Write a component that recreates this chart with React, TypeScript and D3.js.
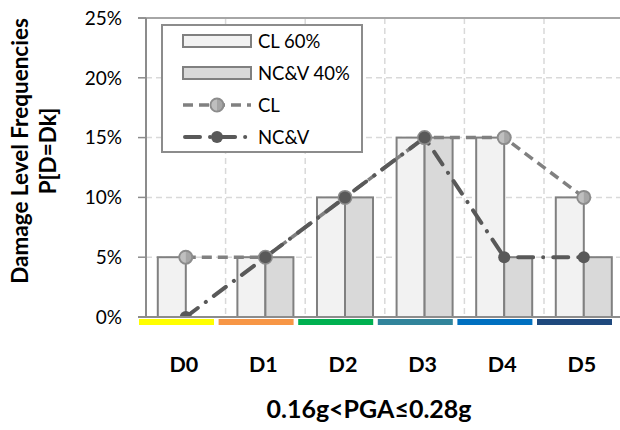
import React from "react";
import * as d3 from "d3";

const categories = ["D0", "D1", "D2", "D3", "D4", "D5"];
const clBars = [5, 5, 10, 15, 15, 10];
const ncvBars = [0, 5, 10, 15, 5, 5];
const clLine = [5, 5, 10, 15, 15, 10];
const ncvLine = [0, 5, 10, 15, 5, 5];
const yTicks = [0, 5, 10, 15, 20, 25];
const stripColors = ["#FFFF00", "#F79646", "#00B050", "#31849B", "#0070C0", "#1F497D"];
const barSeries = ["CL 60%", "NC&V 40%"];

const FONT = "Lato, 'DejaVu Sans', sans-serif";

export default function App() {
  const W = 620;
  const H = 430;
  const left = 146;
  const bandW = 79.6;
  const top = 18;
  const bottom = 317;

  const x = d3.scaleBand<string>().domain(categories).range([left, left + bandW * categories.length]);
  const inner = d3.scaleBand<string>().domain(barSeries).range([0, x.bandwidth()]).paddingInner(0).paddingOuter(0.421);
  const y = d3.scaleLinear().domain([0, 25]).range([bottom, top]);
  const cx = (c: string) => (x(c) as number) + x.bandwidth() / 2;

  const line = d3
    .line<number>()
    .x((_, i) => cx(categories[i]))
    .y((d) => y(d));

  const axisGray = "#8c8c8c";
  const clDash = "10 6";
  const ncvDash = "15 10 0.1 10";

  const ClMarker = ({ cxv, cyv }: { cxv: number; cyv: number }) => (
    <g>
      <circle cx={cxv} cy={cyv} r={6.5} fill="#a6a6a6" stroke="#8c8c8c" strokeWidth={2} />
      <path d={`M${cxv},${cyv - 5.5} A5.5,5.5 0 0 0 ${cxv},${cyv + 5.5} Z`} fill="#bfbfbf" />
    </g>
  );

  return (
    <svg width={W} height={H} style={{ position: "absolute", left: 0, top: 0, background: "#fff" }} fontFamily={FONT}>
      <defs>
        <clipPath id="plot-clip">
          <rect x={left} y={0} width={W - left} height={bottom - 1} />
        </clipPath>
      </defs>
      {/* horizontal gridlines */}
      {yTicks.slice(1, -1).map((t) => (
        <line key={"hg" + t} x1={left} x2={W} y1={y(t)} y2={y(t)} stroke="#d9d9d9" strokeWidth={1.5} strokeDasharray="6 4" />
      ))}
      {/* vertical gridlines at category boundaries */}
      {categories.slice(1).map((c) => (
        <line key={"vg" + c} x1={x(c)} x2={x(c)} y1={top} y2={bottom} stroke="#d9d9d9" strokeWidth={1.5} strokeDasharray="6 4" />
      ))}
      {/* top line */}
      <line x1={left - 8} x2={W} y1={y(25)} y2={y(25)} stroke="#a6a6a6" strokeWidth={2} />

      {/* bars */}
      {categories.map((c, i) => (
        <g key={"b" + c}>
          <rect
            x={(x(c) as number) + (inner(barSeries[0]) as number)}
            y={y(clBars[i])}
            width={inner.bandwidth()}
            height={y(0) - y(clBars[i])}
            fill="#f2f2f2"
            stroke="#808080"
            strokeWidth={2}
          />
          {ncvBars[i] > 0 && (
            <rect
              x={(x(c) as number) + (inner(barSeries[1]) as number)}
              y={y(ncvBars[i])}
              width={inner.bandwidth()}
              height={y(0) - y(ncvBars[i])}
              fill="#d9d9d9"
              stroke="#808080"
              strokeWidth={2}
            />
          )}
        </g>
      ))}

      {/* y axis */}
      <line x1={left} x2={left} y1={top} y2={bottom} stroke={axisGray} strokeWidth={2} />
      {yTicks.map((t) => (
        <g key={"yt" + t}>
          <line x1={left - 8} x2={left} y1={y(t)} y2={y(t)} stroke={axisGray} strokeWidth={1.5} />
          <text x={122} y={y(t)} dy="0.36em" textAnchor="end" fontSize={19} fill="#000">
            {t + "%"}
          </text>
        </g>
      ))}

      {/* lines */}
      <g clipPath="url(#plot-clip)">
        <path d={line(clLine) as string} fill="none" stroke="#808080" strokeWidth={3.5} strokeDasharray={clDash} />
        <path
          d={line(ncvLine) as string}
          fill="none"
          stroke="#595959"
          strokeWidth={4}
          strokeLinecap="round"
          strokeDasharray={ncvDash}
        />
        {clLine.map((v, i) => (
          <ClMarker key={"cm" + i} cxv={cx(categories[i])} cyv={y(v)} />
        ))}
        {ncvLine.map((v, i) => (
          <circle key={"nm" + i} cx={cx(categories[i])} cy={y(v)} r={6} fill="#595959" />
        ))}
      </g>

      {/* x axis */}
      <line x1={left - 8} x2={W} y1={y(0)} y2={y(0)} stroke={axisGray} strokeWidth={2} />

      {/* damage state colour strips */}
      {categories.map((c, i) => (
        <rect key={"s" + c} x={(x(c) as number) - 7} y={319} width={75} height={6} fill={stripColors[i]} />
      ))}

      {/* category labels */}
      {categories.map((c) => (
        <text key={"xl" + c} x={cx(c) - 2} y={372} textAnchor="middle" fontSize={21.5} fontWeight="bold" fill="#000">
          {c}
        </text>
      ))}

      {/* axis titles */}
      <text x={369} y={418} textAnchor="middle" fontSize={25} fontWeight="bold" fill="#000">
        0.16g&lt;PGA≤0.28g
      </text>
      <g transform="translate(0,151) rotate(-90)">
        <text x={0} y={28} textAnchor="middle" fontSize={22.5} fontWeight="bold" fill="#000">
          Damage Level Frequencies
        </text>
        <text x={0} y={56} textAnchor="middle" fontSize={22.5} fontWeight="bold" fill="#000">
          P[D=Dk]
        </text>
      </g>

      {/* legend */}
      <g>
        <rect x={162} y={25} width={200} height={127} fill="#fff" stroke="#8c8c8c" strokeWidth={2} />
        <rect x={183} y={35} width={68} height={12} fill="#f2f2f2" stroke="#808080" strokeWidth={2} />
        <text x={258} y={41} dy="0.36em" fontSize={18.5} fill="#000">CL 60%</text>
        <rect x={183} y={67} width={68} height={12} fill="#d9d9d9" stroke="#808080" strokeWidth={2} />
        <text x={258} y={73} dy="0.36em" fontSize={18.5} fill="#000">NC&amp;V 40%</text>
        <line x1={183} x2={251} y1={105} y2={105} stroke="#808080" strokeWidth={3.5} strokeDasharray={clDash} />
        <ClMarker cxv={217} cyv={105} />
        <text x={258} y={105} dy="0.36em" fontSize={18.5} fill="#000">CL</text>
        <line
          x1={185}
          x2={249}
          y1={137}
          y2={137}
          stroke="#595959"
          strokeWidth={4}
          strokeLinecap="round"
          strokeDasharray={ncvDash}
        />
        <circle cx={217} cy={137} r={6} fill="#595959" />
        <text x={258} y={137} dy="0.36em" fontSize={18.5} fill="#000">NC&amp;V</text>
      </g>
    </svg>
  );
}
